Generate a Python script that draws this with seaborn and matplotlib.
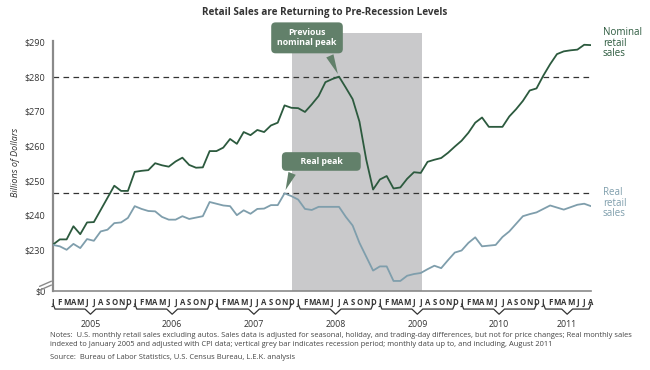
import numpy as np
import pandas as pd
import matplotlib
matplotlib.use("Agg")
import matplotlib.pyplot as plt
import matplotlib.transforms as mtransforms
import seaborn as sns

# monthly data, Jan 2005 .. Aug 2011 (billions of dollars)
years = [2005, 2006, 2007, 2008, 2009, 2010, 2011]
month_letters = ["J", "F", "M", "A", "M", "J", "J", "A", "S", "O", "N", "D"]

nominal_sales = [
    231.5, 233.0, 233.0, 236.8, 234.5, 237.9, 238.0, 241.5, 245.0, 248.5, 247.0, 247.0,
    252.5, 252.8, 253.0, 255.0, 254.4, 254.0, 255.5, 256.6, 254.5, 253.7, 253.8, 258.5,
    258.5, 259.5, 262.0, 260.6, 264.0, 263.1, 264.6, 264.0, 265.9, 266.7, 271.7, 271.0,
    270.9, 269.8, 272.0, 274.4, 278.4, 279.3, 280.0, 276.8, 273.5, 267.0, 256.0, 247.4,
    250.3, 251.3, 247.7, 248.0, 250.5, 252.4, 252.2, 255.4, 256.0, 256.5, 258.0, 259.8,
    261.5, 263.8, 266.7, 268.2, 265.5, 265.5, 265.5, 268.5, 270.6, 273.0, 276.0, 276.6,
    280.3, 283.6, 286.5, 287.3, 287.6, 287.8, 289.2, 289.1,
]
real_sales = [
    231.4, 231.0, 230.0, 231.7, 230.5, 233.1, 232.6, 235.3, 235.8, 237.7, 237.9, 239.2,
    242.6, 241.8, 241.2, 241.1, 239.5, 238.7, 238.7, 239.7, 238.9, 239.3, 239.7, 243.8,
    243.3, 242.8, 242.6, 240.0, 241.4, 240.4, 241.8, 241.9, 242.9, 242.9, 246.3, 245.5,
    244.5, 241.8, 241.5, 242.4, 242.4, 242.4, 242.4, 239.5, 237.0, 232.0, 228.0, 224.0,
    225.2, 225.2, 221.0, 221.0, 222.5, 223.0, 223.3, 224.4, 225.4, 224.7, 227.0, 229.2,
    229.8, 232.0, 233.6, 231.0, 231.2, 231.4, 233.7, 235.3, 237.5, 239.7, 240.3, 240.8,
    241.8, 242.8, 242.2, 241.6, 242.3, 243.0, 243.3, 242.6,
]

nominal_peak = 280.0
real_peak = 246.3
recession_start = 35.1   # Dec 2007
recession_end = 54.2     # Jun 2009

ytick_values = [218.1, 230, 240, 250, 260, 270, 280, 290]
ytick_labels = ["$0", "$230", "$240", "$250", "$260", "$270", "$280", "$290"]

n = len(nominal_sales)
month_idx = np.arange(n)
labels_x = [month_letters[i % 12] for i in range(n)]

df = pd.DataFrame({
    "month": np.concatenate([month_idx, month_idx]),
    "sales": nominal_sales + real_sales,
    "series": ["Nominal"] * n + ["Real"] * n,
})

GREEN = "#2c5a3e"
BLUE = "#7f9eac"
BOX = "#62806a"
GREY = "#8a8a8a"

sns.set_style("white")
plt.rcParams["font.family"] = ["Open Sans", "DejaVu Sans"]

fig = plt.figure(figsize=(6.5, 3.7), dpi=100)
ax = fig.add_axes([53 / 650, 1 - 291 / 370, 538 / 650, 258 / 370])

ax.axvspan(recession_start, recession_end, color="#c9c9cb", lw=0, zorder=0)

sns.lineplot(data=df, x="month", y="sales", hue="series",
             palette={"Nominal": GREEN, "Real": BLUE}, linewidth=1.3,
             legend=False, ax=ax, zorder=3)

for yv in [nominal_peak, real_peak]:
    ax.plot([0, 79.2], [yv, yv], color="#333333", lw=0.9,
            linestyle=(0, (4.5, 3.5)), zorder=2, clip_on=False)

ax.set_xlim(0, 79)
ax.set_ylim(218.1, 292.6)
ax.set_xlabel("")
ax.set_ylabel("Billions of Dollars", fontsize=6.5, style="italic",
              color="#333333", labelpad=3)

ax.set_yticks(ytick_values)
ax.set_yticklabels(ytick_labels, fontsize=6.5, color="#333333")
ax.set_xticks(month_idx)
ax.set_xticklabels(labels_x, fontsize=5.6, fontweight="bold", color="#333333")
ax.tick_params(axis="both", direction="out", length=3.5, width=0.8,
               color=GREY, pad=2)
ax.tick_params(axis="x", pad=1.5)

for s in ["top", "right"]:
    ax.spines[s].set_visible(False)
ax.spines["left"].set_bounds(218.1, 290.4)
ax.spines["left"].set_color(GREY)
ax.spines["left"].set_linewidth(1.6)
ax.spines["bottom"].set_color(GREY)
ax.spines["bottom"].set_linewidth(1.2)

# axis break marks
ax.plot([-0.025, -0.003], [0.018, 0.038], transform=ax.transAxes,
        color=GREY, lw=1, clip_on=False)
ax.plot([-0.025, -0.003], [0.003, 0.023], transform=ax.transAxes,
        color=GREY, lw=1, clip_on=False)

# year braces
trans = mtransforms.blended_transform_factory(ax.transData, ax.transAxes)
for k, yr in enumerate(years):
    x0 = k * 12
    x1 = min(k * 12 + 11, n - 1)
    xm = (x0 + x1) / 2
    bx = [x0, x0 + 0.3, xm - 0.8, xm, xm + 0.8, x1 - 0.3, x1]
    by = [-0.050, -0.070, -0.070, -0.090, -0.070, -0.070, -0.050]
    ax.plot(bx, by, transform=trans, color="#333333", lw=0.9, clip_on=False)
    ax.text(xm, -0.13, str(yr), transform=trans, ha="center", va="center",
            fontsize=6.3, color="#333333")

# callouts
ax.annotate("Previous\nnominal peak", xy=(42, nominal_peak), xytext=(37.3, 291.2),
            ha="center", va="center", fontsize=6.3, fontweight="bold", color="white",
            linespacing=1.1, annotation_clip=False,
            bbox=dict(boxstyle="round,pad=0.7,rounding_size=0.5", fc=BOX, ec="none"),
            arrowprops=dict(arrowstyle="wedge,tail_width=0.9,shrink_factor=0.5",
                            fc=BOX, ec="none", relpos=(0.82, 0.0)),
            zorder=5)
ax.annotate("      Real peak      ", xy=(34, real_peak + 0.2), xytext=(39.4, 255.5),
            ha="center", va="center", fontsize=6.3, fontweight="bold", color="white",
            annotation_clip=False,
            bbox=dict(boxstyle="round,pad=0.55,rounding_size=0.5", fc=BOX, ec="none"),
            arrowprops=dict(arrowstyle="wedge,tail_width=0.9,shrink_factor=0.5",
                            fc=BOX, ec="none", relpos=(0.12, 0.0)),
            zorder=5)

# series labels
fig.text(603 / 650, 1 - 27 / 370, "Nominal\nretail\nsales", fontsize=7,
         color=GREEN, va="top", ha="left", linespacing=0.95)
fig.text(603 / 650, 1 - 187 / 370, "Real\nretail\nsales", fontsize=7,
         color=BLUE, va="top", ha="left", linespacing=0.95)

fig.text(0.5, 1 - 12 / 370, "Retail Sales are Returning to Pre-Recession Levels",
         ha="center", va="center", fontsize=7.1, fontweight="bold", color="#333333")

notes = ("Notes:  U.S. monthly retail sales excluding autos. Sales data is adjusted for seasonal, holiday, "
         "and trading-day differences, but not for price changes; Real monthly sales\n"
         "indexed to January 2005 and adjusted with CPI data; vertical grey bar indicates recession period; "
         "monthly data up to, and including, August 2011")
fig.text(50 / 650, 1 - 332 / 370, notes, fontsize=5.4, color="#444444",
         va="top", ha="left", linespacing=1.35)
fig.text(50 / 650, 1 - 354 / 370,
         "Source:  Bureau of Labor Statistics, U.S. Census Bureau, L.E.K. analysis",
         fontsize=5.4, color="#444444", va="top", ha="left")

fig.savefig("out.png", dpi=100)
